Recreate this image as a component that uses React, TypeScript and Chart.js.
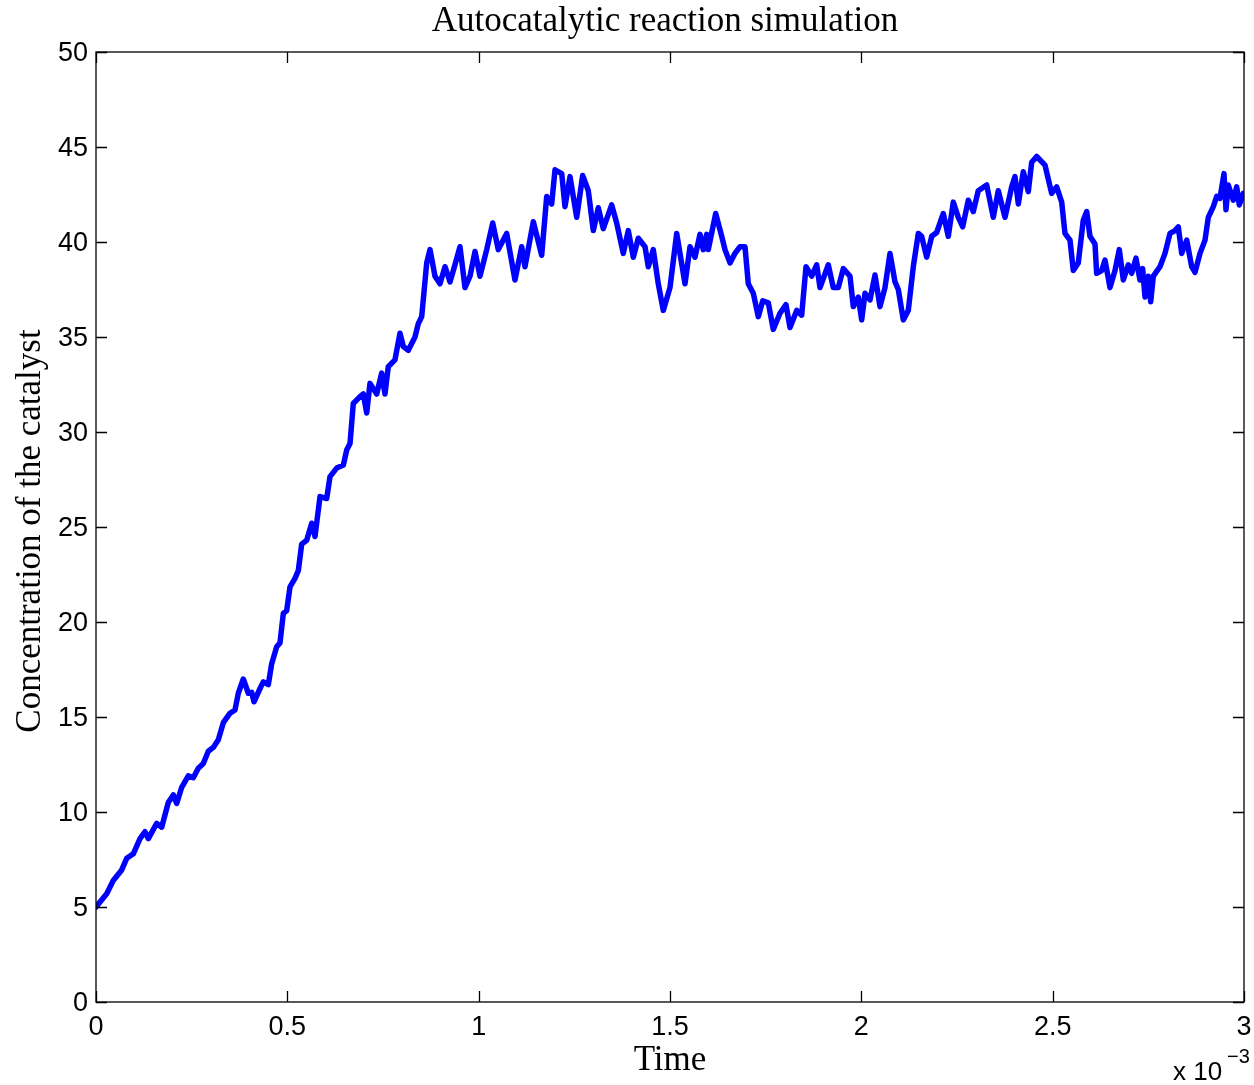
import React, { useEffect, useRef } from "react";
import { Chart, registerables } from "chart.js";

Chart.register(...registerables);

// Time values (in units of 1e-3 s)
const timeValues: number[] = [
  0, 0.028, 0.0452, 0.0672, 0.0802, 0.0975, 0.115, 0.128, 0.1367, 0.1586,
  0.1717, 0.1889, 0.202, 0.2109, 0.224, 0.2412, 0.2543, 0.2673, 0.2804, 0.2935,
  0.3065, 0.3196, 0.3327, 0.3502, 0.3632, 0.3719, 0.3849, 0.398, 0.4069, 0.4129,
  0.4286, 0.4372, 0.4502, 0.4591, 0.4722, 0.4808, 0.4895, 0.4983, 0.507, 0.52,
  0.5287, 0.5375, 0.5506, 0.5637, 0.5723, 0.5854, 0.6029, 0.6115, 0.629, 0.6463,
  0.6551, 0.6638, 0.6724, 0.6899, 0.6985, 0.7074, 0.716, 0.7335, 0.7466, 0.7552,
  0.7638, 0.7813, 0.7944, 0.803, 0.8161, 0.8336, 0.8422, 0.8511, 0.8642, 0.8728,
  0.8859, 0.8989, 0.912, 0.9251, 0.9381, 0.9512, 0.9643, 0.9773, 0.9904, 1.0035,
  1.021, 1.0367, 1.0513, 1.0732, 1.0949, 1.1124, 1.121, 1.1428, 1.1647, 1.1778,
  1.1908, 1.1995, 1.217, 1.2256, 1.2387, 1.2562, 1.2718, 1.2865, 1.2996, 1.3126,
  1.3257, 1.3476, 1.3607, 1.3779, 1.391, 1.4041, 1.4171, 1.4347, 1.4433, 1.4563,
  1.4694, 1.4825, 1.5, 1.5175, 1.5261, 1.5392, 1.5522, 1.5653, 1.5784, 1.587,
  1.5959, 1.6, 1.6194, 1.6351, 1.6437, 1.6568, 1.6698, 1.6829, 1.696, 1.7046,
  1.7177, 1.7307, 1.7422, 1.7569, 1.7699, 1.7874, 1.8031, 1.8136, 1.8311, 1.8441,
  1.8554, 1.8703, 1.8833, 1.892, 1.9137, 1.9267, 1.9398, 1.9529, 1.9704, 1.979,
  1.9921, 2.0009, 2.0096, 2.0226, 2.0357, 2.0488, 2.0618, 2.0749, 2.088, 2.0966,
  2.1097, 2.1227, 2.1358, 2.1489, 2.1577, 2.1708, 2.1839, 2.1969, 2.2142, 2.2272,
  2.2403, 2.2534, 2.2649, 2.2795, 2.2926, 2.3056, 2.3276, 2.3448, 2.3579, 2.3754,
  2.3929, 2.4015, 2.4102, 2.4232, 2.4363, 2.4452, 2.4582, 2.4799, 2.4974, 2.5105,
  2.5236, 2.5322, 2.5453, 2.5539, 2.5669, 2.58, 2.5889, 2.5975, 2.6106, 2.615,
  2.6281, 2.6367, 2.6498, 2.6629, 2.6741, 2.6846, 2.6976, 2.7065, 2.7177, 2.7282,
  2.7352, 2.7413, 2.7499, 2.7562, 2.763, 2.7805, 2.7935, 2.8066, 2.8197, 2.8283,
  2.8372, 2.8503, 2.8633, 2.872, 2.885, 2.8981, 2.9067, 2.9198, 2.9287, 2.9372,
  2.9477, 2.9529, 2.9589, 2.972, 2.9809, 2.9877, 2.9981, 3.0,
];

// Concentration of the catalyst
const catalystValues: number[] = [
  5.0, 5.7, 6.4, 6.95, 7.56, 7.8, 8.6, 8.96, 8.6, 9.4,
  9.2, 10.5, 10.9, 10.45, 11.3, 11.9, 11.8, 12.3, 12.55, 13.2,
  13.4, 13.8, 14.7, 15.2, 15.37, 16.25, 17.0, 16.25, 16.3, 15.8,
  16.5, 16.85, 16.7, 17.8, 18.7, 18.9, 20.45, 20.6, 21.85, 22.3,
  22.7, 24.1, 24.3, 25.2, 24.5, 26.6, 26.5, 27.65, 28.1, 28.26,
  29.05, 29.4, 31.5, 31.86, 32.0, 31.0, 32.56, 32.0, 33.1, 32.0,
  33.44, 33.8, 35.2, 34.5, 34.3, 35.0, 35.7, 36.07, 38.9, 39.6,
  38.2, 37.8, 38.7, 37.9, 38.8, 39.75, 37.6, 38.2, 39.5, 38.2,
  39.6, 41.0, 39.6, 40.45, 38.0, 39.75, 38.7, 41.07, 39.3, 42.4,
  42.0, 43.8, 43.6, 41.86, 43.44, 41.3, 43.5, 42.7, 40.6, 41.8,
  40.7, 41.95, 41.0, 39.4, 40.6, 39.2, 40.2, 39.75, 38.7, 39.6,
  37.8, 36.4, 37.6, 40.45, 39.4, 37.8, 39.75, 39.2, 40.4, 39.6,
  40.4, 39.6, 41.5, 40.3, 39.6, 38.9, 39.4, 39.75, 39.75, 37.8,
  37.3, 36.07, 36.9, 36.8, 35.4, 36.25, 36.7, 35.5, 36.4, 36.15,
  38.7, 38.2, 38.8, 37.6, 38.8, 37.6, 37.6, 38.6, 38.2, 36.6,
  37.1, 35.9, 37.3, 36.95, 38.26, 36.6, 37.6, 39.4, 37.9, 37.5,
  35.9, 36.4, 38.7, 40.45, 40.3, 39.2, 40.3, 40.5, 41.5, 40.3,
  42.1, 41.3, 40.8, 42.2, 41.6, 42.7, 43.0, 41.3, 42.7, 41.3,
  42.9, 43.44, 42.0, 43.7, 42.65, 44.2, 44.5, 44.05, 42.56, 42.9,
  42.1, 40.45, 40.1, 38.5, 38.9, 41.15, 41.6, 40.3, 39.9, 38.35,
  38.5, 39.05, 37.6, 38.5, 39.6, 38.0, 38.8, 38.35, 39.15, 38.0,
  38.6, 37.1, 38.2, 36.86, 38.2, 38.7, 39.4, 40.45, 40.6, 40.8,
  39.4, 40.1, 38.7, 38.4, 39.4, 40.1, 41.3, 41.86, 42.4, 42.3,
  43.6, 41.7, 43.0, 42.2, 42.9, 41.95, 42.56, 42.4,
];

const xTicks: number[] = [0, 0.5, 1, 1.5, 2, 2.5, 3];
const yTicks: number[] = [0, 5, 10, 15, 20, 25, 30, 35, 40, 45, 50];

const titleText = "Autocatalytic reaction simulation";
const xLabelText = "Time";
const yLabelText = "Concentration of the catalyst";
const exponentBase = "x 10";
const exponentPower = "\u22123";

const SERIF = '"Liberation Serif", "DejaVu Serif", serif';
const SANS = '"Liberation Sans", Arial, sans-serif';

const frameTicksPlugin = {
  id: "frameTicks",
  afterDraw(chart: any) {
    const { ctx, chartArea, scales } = chart;
    const { left, right, top, bottom } = chartArea;
    const tl = 11;
    ctx.save();
    ctx.strokeStyle = "#000";
    ctx.lineWidth = 1.3;
    ctx.strokeRect(left, top, right - left, bottom - top);
    ctx.beginPath();
    xTicks.forEach((v) => {
      const px = Math.round(scales.x.getPixelForValue(v)) + 0.5;
      ctx.moveTo(px, bottom);
      ctx.lineTo(px, bottom - tl);
      ctx.moveTo(px, top);
      ctx.lineTo(px, top + tl);
    });
    yTicks.forEach((v) => {
      const py = Math.round(scales.y.getPixelForValue(v)) + 0.5;
      ctx.moveTo(left, py);
      ctx.lineTo(left + tl, py);
      ctx.moveTo(right, py);
      ctx.lineTo(right - tl, py);
    });
    ctx.stroke();

    // Title
    ctx.fillStyle = "#000";
    ctx.font = `35px ${SERIF}`;
    ctx.textAlign = "center";
    ctx.textBaseline = "alphabetic";
    ctx.fillText(titleText, (left + right) / 2 - 5, 31);

    // X label
    ctx.fillText(xLabelText, (left + right) / 2, 1070);

    // Y label
    ctx.save();
    ctx.translate(40, (top + bottom) / 2 + 4);
    ctx.rotate(-Math.PI / 2);
    ctx.fillText(yLabelText, 0, 0);
    ctx.restore();

    // exponent
    ctx.font = `26px ${SANS}`;
    ctx.textAlign = "left";
    ctx.fillText(exponentBase, 1173, 1080);
    ctx.font = `20px ${SANS}`;
    ctx.fillText(exponentPower, 1227, 1063);
    ctx.restore();
  },
};

export default function App() {
  const canvasRef = useRef<HTMLCanvasElement | null>(null);

  useEffect(() => {
    document.body.style.margin = "0";
    const canvas = canvasRef.current;
    if (!canvas) return;
    const points = timeValues.map((t, i) => ({ x: t, y: catalystValues[i] }));
    const chart = new Chart(canvas, {
      type: "line",
      data: {
        datasets: [
          {
            data: points,
            borderColor: "#0000ff",
            backgroundColor: "#0000ff",
            borderWidth: 5.5,
            pointRadius: 0,
            tension: 0,
            borderJoinStyle: "round",
            borderCapStyle: "round",
          },
        ],
      },
      options: {
        animation: false,
        responsive: false,
        maintainAspectRatio: false,
        devicePixelRatio: 1,
        layout: { padding: { left: 0, right: 10, top: 52, bottom: 0 } },
        plugins: {
          legend: { display: false },
          tooltip: { enabled: false },
          title: { display: false },
        },
        scales: {
          x: {
            type: "linear",
            min: 0,
            max: 3,
            afterBuildTicks: (scale: any) => {
              scale.ticks = xTicks.map((v) => ({ value: v }));
            },
            afterFit: (scale: any) => {
              scale.height = 83;
              scale.paddingLeft = 0;
              scale.paddingRight = 0;
            },
            ticks: {
              color: "#000",
              font: { family: SANS, size: 27 },
              padding: 9,
              maxRotation: 0,
              autoSkip: false,
              callback: (v: any) => String(v),
            },
            grid: { display: false, drawTicks: false },
            border: { display: false },
          },
          y: {
            type: "linear",
            min: 0,
            max: 50,
            afterBuildTicks: (scale: any) => {
              scale.ticks = yTicks.map((v) => ({ value: v }));
            },
            afterFit: (scale: any) => {
              scale.width = 96;
              scale.paddingTop = 0;
              scale.paddingBottom = 0;
            },
            ticks: {
              color: "#000",
              font: { family: SANS, size: 27 },
              padding: 8,
              autoSkip: false,
              labelOffset: 2,
              callback: (v: any) => String(v),
            },
            grid: { display: false, drawTicks: false },
            border: { display: false },
          },
        },
      },
      plugins: [frameTicksPlugin],
    } as any);
    return () => chart.destroy();
  }, []);

  return (
    <div style={{ width: 1254, height: 1085, background: "#fff" }}>
      <canvas ref={canvasRef} width={1254} height={1085} style={{ display: "block" }} />
    </div>
  );
}
